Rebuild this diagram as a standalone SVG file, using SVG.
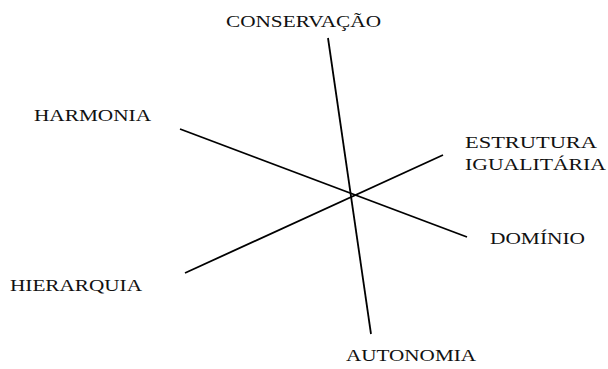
<svg xmlns="http://www.w3.org/2000/svg" width="608" height="369" viewBox="0 0 608 369">
<style>
.lbl{font-family:"Liberation Serif","Times New Roman",serif;font-size:17.5px;fill:#111;}
line{stroke:#000;stroke-width:1.8;stroke-linecap:butt;}
</style>
<rect width="608" height="369" fill="#fff"/>
<g id="connectors">
<line x1="328" y1="38" x2="371" y2="334"/>
<line x1="180" y1="129" x2="467" y2="237"/>
<line x1="185" y1="273" x2="443" y2="155"/>
</g>
<g id="conservacao"><text class="lbl" x="226" y="26.5" textLength="155" lengthAdjust="spacingAndGlyphs">CONSERVAÇÃO</text></g>
<g id="harmonia"><text class="lbl" x="34" y="121" textLength="117" lengthAdjust="spacingAndGlyphs">HARMONIA</text></g>
<g id="estrutura"><text class="lbl" x="465" y="148" textLength="132" lengthAdjust="spacingAndGlyphs">ESTRUTURA</text><text class="lbl" x="465" y="170" textLength="141" lengthAdjust="spacingAndGlyphs">IGUALITÁRIA</text></g>
<g id="dominio"><text class="lbl" x="490" y="244" textLength="95" lengthAdjust="spacingAndGlyphs">DOMÍNIO</text></g>
<g id="hierarquia"><text class="lbl" x="10" y="291" textLength="132" lengthAdjust="spacingAndGlyphs">HIERARQUIA</text></g>
<g id="autonomia"><text class="lbl" x="346" y="361" textLength="130" lengthAdjust="spacingAndGlyphs">AUTONOMIA</text></g>
</svg>
